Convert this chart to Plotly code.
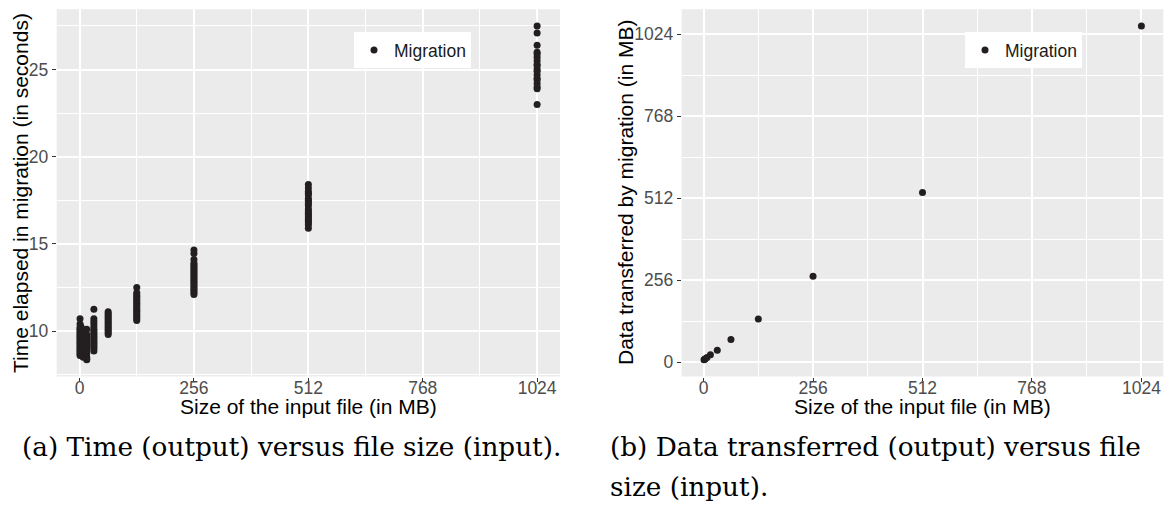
import plotly.graph_objects as go

# ---------------- data ----------------
# Panel (a): time elapsed in migration (s) for each input file size (MB)
time_1mb = [10.7, 10.4, 10.2, 10.1, 10.0, 9.9, 9.8, 9.7, 9.6, 9.5, 9.4, 9.3, 9.2, 9.1, 9.0, 8.9, 8.8, 8.7, 8.6]
time_2mb = [10.3, 10.1, 9.9, 9.7, 9.6, 9.5, 9.4, 9.3, 9.2, 9.1, 9.0, 8.9, 8.8, 8.7]
time_4mb = [10.2, 10.0, 9.8, 9.6, 9.5, 9.4, 9.3, 9.2, 9.1, 9.0, 8.9, 8.8, 8.7, 8.6]
time_8mb = [9.9, 9.8, 9.6, 9.5, 9.4, 9.3, 9.2, 9.1, 9.0, 8.9, 8.8, 8.7, 8.6, 8.5]
time_16mb = [10.1, 9.8, 9.6, 9.5, 9.4, 9.3, 9.2, 9.1, 9.0, 8.9, 8.8, 8.7, 8.5, 8.4, 8.35]
time_32mb = [11.25, 10.7, 10.55, 10.4, 10.25, 10.1, 10.0, 9.9, 9.8, 9.7, 9.6, 9.5, 9.4, 9.3, 9.2, 9.1, 9.0, 8.85]
time_64mb = [11.1, 11.0, 10.9, 10.8, 10.7, 10.6, 10.5, 10.4, 10.3, 10.2, 10.1, 10.0, 9.9, 9.8]
time_128mb = [12.5, 12.2, 12.1, 12.0, 11.9, 11.8, 11.7, 11.6, 11.5, 11.4, 11.3, 11.2, 11.1, 11.0, 10.9, 10.8, 10.7, 10.6]
time_256mb = [14.65, 14.45, 14.1, 13.9, 13.8, 13.7, 13.6, 13.5, 13.4, 13.3, 13.2, 13.1, 13.0, 12.9,
              12.8, 12.7, 12.6, 12.5, 12.4, 12.3, 12.2, 12.1]
time_512mb = [18.4, 18.2, 18.0, 17.9, 17.8, 17.6, 17.5, 17.4, 17.3, 17.2, 17.0, 16.9, 16.8, 16.7,
              16.6, 16.5, 16.4, 16.3, 16.2, 16.1, 15.9]
time_1024mb = [27.5, 27.1, 26.4, 26.0, 25.9, 25.7, 25.5, 25.3, 25.2, 25.0, 24.9, 24.7, 24.5, 24.4,
               24.2, 24.0, 23.9, 23.0]

sizes_mb = [1, 2, 4, 8, 16, 32, 64, 128, 256, 512, 1024]
time_series = [time_1mb, time_2mb, time_4mb, time_8mb, time_16mb, time_32mb,
               time_64mb, time_128mb, time_256mb, time_512mb, time_1024mb]

# Panel (b): data transferred by migration (MB)
transfer_mb = [8, 9, 11, 15, 24, 38, 71.5, 135, 269, 530, 1050]

x_ticks = [0, 256, 512, 768, 1024]
y_ticks_a = [10, 15, 20, 25]
y_ticks_b = [0, 256, 512, 768, 1024]

series_name = "Migration"
x_title = "Size of the input file (in MB)"
y_title_a = "Time elapsed in migration (in seconds)"
y_title_b = "Data transferred by migration (in MB)"
caption_a = "(a) Time (output) versus file size (input)."
caption_b1 = "(b) Data transferred (output) versus file"
caption_b2 = "size (input)."

# ---------------- build ----------------
W, H = 1169, 505
POINT = "#231F20"
PANEL = "#EBEBEB"
SANS = "Liberation Sans, Arial, Helvetica, sans-serif"
SERIF = "DejaVu Serif, Liberation Serif, serif"

xa, ya = [], []
for s, vals in zip(sizes_mb, time_series):
    xa += [s] * len(vals)
    ya += vals


def padded(lo, hi, f=0.05):
    r = hi - lo
    return [lo - f * r, hi + f * r]


fig = go.Figure()
fig.add_trace(go.Scatter(x=xa, y=ya, mode="markers", name=series_name,
                         marker=dict(color=POINT, size=7, line=dict(width=0)),
                         xaxis="x", yaxis="y", legend="legend", showlegend=True))
fig.add_trace(go.Scatter(x=sizes_mb, y=transfer_mb, mode="markers", name=series_name,
                         marker=dict(color=POINT, size=7, line=dict(width=0)),
                         xaxis="x2", yaxis="y2", legend="legend2", showlegend=True))

tickfont = dict(family=SANS, size=17.5, color="#4D4D4D")
common_axis = dict(showline=False, zeroline=False, showgrid=True, gridcolor="white",
                   gridwidth=1.8, ticks="outside", ticklen=4, tickwidth=1.1,
                   tickcolor="#333333", tickfont=tickfont)

xr = padded(0, max(sizes_mb))
dom_x1 = [56.7 / W, 560 / W]
dom_x2 = [681.7 / W, 1163.3 / W]
dom_y = [1 - 376.5 / H, 1 - 9.3 / H]

minor_x = dict(dtick=128, tick0=0, showgrid=True, gridcolor="white", gridwidth=0.9, ticks="")

fig.update_layout(
    width=W, height=H, autosize=False,
    margin=dict(l=0, r=0, t=0, b=0),
    paper_bgcolor="white", plot_bgcolor=PANEL,
    font=dict(family=SANS, color="black"),
    xaxis=dict(domain=dom_x1, range=xr, tickvals=x_ticks, anchor="y", minor=minor_x,
               ticklabelstandoff=-9, **common_axis),
    yaxis=dict(domain=dom_y, range=padded(min(ya), max(ya)), tickvals=y_ticks_a, anchor="x",
               minor=dict(dtick=2.5, tick0=0, showgrid=True, gridcolor="white", gridwidth=0.9, ticks=""),
               **common_axis),
    xaxis2=dict(domain=dom_x2, range=xr, tickvals=x_ticks, anchor="y2", minor=minor_x,
                ticklabelstandoff=-9, **common_axis),
    yaxis2=dict(domain=dom_y, range=padded(min(transfer_mb), max(transfer_mb)), tickvals=y_ticks_b,
                anchor="x2",
                minor=dict(dtick=128, tick0=0, showgrid=True, gridcolor="white", gridwidth=0.9, ticks=""),
                **common_axis),
    legend=dict(x=354 / W, y=1 - 32 / H, xanchor="left", yanchor="top", bgcolor="white",
                font=dict(family=SANS, size=17.5, color="#1A1A1A"), itemwidth=30,
                borderwidth=0),
    legend2=dict(x=965 / W, y=1 - 32 / H, xanchor="left", yanchor="top", bgcolor="white",
                 font=dict(family=SANS, size=17.5, color="#1A1A1A"), itemwidth=30,
                 borderwidth=0),
    showlegend=True,
)

title_font = dict(family=SANS, size=21, color="black")
ann = [
    dict(text=y_title_a, x=20 / W, y=1 - 193 / H, textangle=-90, font=title_font),
    dict(text=y_title_b, x=625 / W, y=1 - 193 / H, textangle=-90, font=title_font),
    dict(text=x_title, x=308.4 / W, y=1 - 406 / H, font=title_font),
    dict(text=x_title, x=922.5 / W, y=1 - 406 / H, font=title_font),
]
for a in ann:
    a.update(xref="paper", yref="paper", xanchor="center", yanchor="middle", showarrow=False)

cap_font = dict(family=SERIF, size=26.3, color="black")
for txt, x, y in [(caption_a, 20, 447), (caption_b1, 608, 447), (caption_b2, 608, 487)]:
    ann.append(dict(text=txt, x=x / W, y=1 - y / H, xref="paper", yref="paper",
                    xanchor="left", yanchor="middle", showarrow=False, font=cap_font))

fig.update_layout(annotations=ann)
fig.write_html("out.html")
